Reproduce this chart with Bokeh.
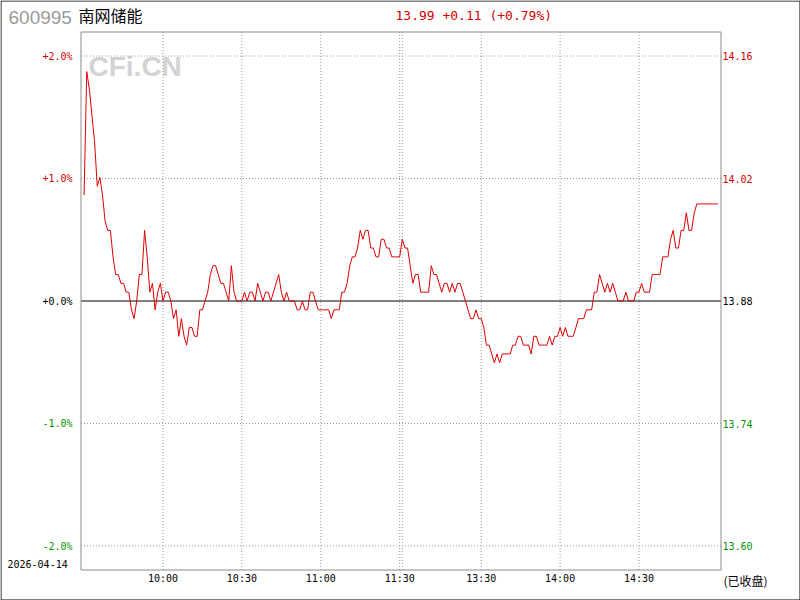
from bokeh.plotting import figure
from bokeh.models import ColumnDataSource
from bokeh.core.properties import value
from bokeh.embed import file_html
from bokeh.resources import INLINE

# ---------------- data ----------------
stock_code = "600995"
stock_name = "南网储能"
trade_date = "2026-04-14"
status_text = "(已收盘)"
watermark = "CFi.CN"
prev_close = 13.88

# 09:30 .. 11:30 (121 minutes)
morning_prices = [
    14.00, 14.14, 14.12, 14.09, 14.06, 14.01, 14.02, 14.00, 13.97, 13.96,
    13.96, 13.93, 13.91, 13.91, 13.90, 13.90, 13.89, 13.89, 13.87, 13.86,
    13.88, 13.91, 13.91, 13.96, 13.93, 13.89, 13.90, 13.87, 13.89, 13.90,
    13.88, 13.89, 13.89, 13.88, 13.86, 13.87, 13.84, 13.86, 13.84, 13.83,
    13.85, 13.85, 13.84, 13.84, 13.87, 13.87, 13.88, 13.89, 13.91, 13.92,
    13.92, 13.91, 13.90, 13.90, 13.89, 13.88, 13.92, 13.89, 13.88, 13.88,
    13.88, 13.89, 13.88, 13.89, 13.89, 13.88, 13.90, 13.89, 13.88, 13.89,
    13.89, 13.88, 13.89, 13.90, 13.91, 13.89, 13.88, 13.89, 13.88, 13.88,
    13.88, 13.87, 13.87, 13.88, 13.87, 13.87, 13.89, 13.89, 13.88, 13.87,
    13.87, 13.87, 13.87, 13.87, 13.86, 13.87, 13.87, 13.87, 13.89, 13.89,
    13.90, 13.92, 13.93, 13.93, 13.94, 13.96, 13.95, 13.96, 13.96, 13.94,
    13.94, 13.93, 13.93, 13.95, 13.95, 13.94, 13.94, 13.93, 13.93, 13.93,
    13.93,
]
# 13:00 .. 15:00 (121 minutes)
afternoon_prices = [
    13.95, 13.94, 13.94, 13.92, 13.90, 13.91, 13.91, 13.89, 13.89, 13.89,
    13.89, 13.92, 13.91, 13.91, 13.90, 13.89, 13.90, 13.90, 13.89, 13.90,
    13.89, 13.90, 13.90, 13.89, 13.88, 13.87, 13.86, 13.86, 13.87, 13.86,
    13.86, 13.85, 13.83, 13.83, 13.82, 13.81, 13.82, 13.81, 13.82, 13.82,
    13.82, 13.82, 13.83, 13.83, 13.84, 13.84, 13.83, 13.83, 13.83, 13.82,
    13.84, 13.84, 13.83, 13.83, 13.83, 13.83, 13.84, 13.83, 13.84, 13.84,
    13.85, 13.84, 13.85, 13.84, 13.84, 13.84, 13.85, 13.86, 13.86, 13.86,
    13.87, 13.87, 13.87, 13.89, 13.89, 13.91, 13.90, 13.89, 13.90, 13.89,
    13.90, 13.89, 13.88, 13.88, 13.88, 13.89, 13.88, 13.88, 13.88, 13.89,
    13.89, 13.90, 13.89, 13.89, 13.89, 13.91, 13.91, 13.91, 13.91, 13.93,
    13.93, 13.93, 13.95, 13.96, 13.94, 13.94, 13.96, 13.96, 13.98, 13.96,
    13.96, 13.98, 13.99, 13.99, 13.99, 13.99, 13.99, 13.99, 13.99, 13.99,
    13.99,
]

time_grid_pos = [30, 60, 90, 120, 121, 151, 181, 211]
time_tick_pos = [30, 60, 90, 120, 151, 181, 211]
time_tick_labels = ["10:00", "10:30", "11:00", "11:30", "13:30", "14:00", "14:30"]
pct_ticks = [2.0, 1.0, 0.0, -1.0, -2.0]
pct_labels = ["+2.0%", "+1.0%", "+0.0%", "-1.0%", "-2.0%"]
price_labels = ["14.16", "14.02", "13.88", "13.74", "13.60"]

RED = "#d40000"
GREEN = "#009400"
label_colors = [RED, RED, "#000000", GREEN, GREEN]

# ---------------- derived series ----------------
prices = morning_prices + afternoon_prices
xs = list(range(len(prices)))
pcts = [(v - prev_close) / prev_close * 100.0 for v in prices]
last = prices[-1]
chg = last - prev_close
chg_pct = chg / prev_close * 100.0
quote_text = f"{last:.2f} {chg:+.2f} ({chg_pct:+.2f}%)"

# ---------------- layout (canvas pixels -> data) ----------------
W, H = 800, 600
PX0, PXS = 83.6, 476.0 / 181.0     # x pixel of 09:30, pixels per minute
PY0, PYS = 300.5, 122.5             # y pixel of 0 %, pixels per 1 %
X0, X1 = -PX0 / PXS, (W - PX0) / PXS
Y0, Y1 = -(H - PY0) / PYS, PY0 / PYS


def xd(px):
    return (px - PX0) / PXS


def yd(py):
    return (PY0 - py) / PYS


FRAME_L, FRAME_R, FRAME_T, FRAME_B = 80.5, 720.5, 31.5, 569.5

p = figure(width=W, height=H, x_range=(X0, X1), y_range=(Y0, Y1),
           output_backend="svg", toolbar_location=None,
           x_axis_location=None, y_axis_location=None,
           min_border=0, min_border_left=0, min_border_right=0,
           min_border_top=0, min_border_bottom=0)
p.title.visible = False
p.outline_line_color = None
p.background_fill_color = "white"
p.border_fill_color = "white"
p.xgrid.visible = False
p.ygrid.visible = False

# outer black border
p.quad(left=[xd(0.5)], right=[xd(799.5)], top=[yd(0.5)], bottom=[yd(599.5)],
       fill_color=None, line_color="#000000", line_width=1)

# watermark
p.text(x=[xd(88)], y=[yd(65.5)], text=[watermark], text_align="left", text_baseline="middle",
       text_font=value("Liberation Sans"), text_font_style="bold", text_font_size="28px",
       text_color="#d3d3d3")

# grid lines (dotted)
gx = time_grid_pos
p.segment(x0=gx, x1=gx, y0=[yd(FRAME_T)] * len(gx), y1=[yd(FRAME_B)] * len(gx),
          line_color="#9a9a9a", line_dash="1 2", line_width=1)
gy = [t for t in pct_ticks if t != 0]
p.segment(x0=[xd(FRAME_L)] * len(gy), x1=[xd(FRAME_R)] * len(gy), y0=gy, y1=gy,
          line_color="#9a9a9a", line_dash="1 2", line_width=1)

# zero (previous close) line
p.segment(x0=[xd(FRAME_L)], x1=[xd(FRAME_R)], y0=[0], y1=[0], line_color="#000000", line_width=1)

# plot frame
p.quad(left=[xd(FRAME_L)], right=[xd(FRAME_R)], top=[yd(FRAME_T)], bottom=[yd(FRAME_B)],
       fill_color=None, line_color="#8a8a8a", line_width=1)

# price line
src = ColumnDataSource(dict(x=xs, y=pcts))
p.line("x", "y", source=src, line_color="#dd0000", line_width=1)

# left / right tick labels
lsrc = ColumnDataSource(dict(x=[xd(72)] * len(pct_ticks), y=pct_ticks, t=pct_labels, c=label_colors))
p.text(x="x", y="y", text="t", text_color="c", source=lsrc, text_align="right",
       text_baseline="middle", text_font=value("DejaVu Sans Mono"), text_font_size="10px")
rsrc = ColumnDataSource(dict(x=[xd(722)] * len(pct_ticks), y=pct_ticks, t=price_labels, c=label_colors))
p.text(x="x", y="y", text="t", text_color="c", source=rsrc, text_align="left",
       text_baseline="middle", text_font=value("DejaVu Sans Mono"), text_font_size="10px")

# time labels
tsrc = ColumnDataSource(dict(x=time_tick_pos, y=[yd(577.5)] * len(time_tick_pos), t=time_tick_labels))
p.text(x="x", y="y", text="t", source=tsrc, text_align="center", text_baseline="middle",
       text_font=value("DejaVu Sans Mono"), text_font_size="10px", text_color="#000000")

# header
p.text(x=[xd(8)], y=[yd(16.5)], text=[stock_code], text_align="left", text_baseline="middle",
       text_font=value("Liberation Sans"), text_font_size="19px", text_color="#9a9a9a")
p.text(x=[xd(78)], y=[yd(14)], text=[stock_name], text_align="left", text_baseline="middle",
       text_font=value("Noto Sans CJK SC"), text_font_size="16px", text_color="#000000")
p.text(x=[xd(395)], y=[yd(14.5)], text=[quote_text], text_align="left", text_baseline="middle",
       text_font=value("DejaVu Sans Mono"), text_font_size="13px", text_color=RED)

# footer
p.text(x=[xd(7)], y=[yd(563.3)], text=[trade_date], text_align="left", text_baseline="middle",
       text_font=value("DejaVu Sans Mono"), text_font_size="10px", text_color="#000000")
p.text(x=[xd(723)], y=[yd(579.5)], text=[status_text], text_align="left", text_baseline="middle",
       text_font=value("Noto Sans CJK SC"), text_font_size="12px", text_color="#000000")

open("out.html", "w").write(file_html(p, INLINE))
